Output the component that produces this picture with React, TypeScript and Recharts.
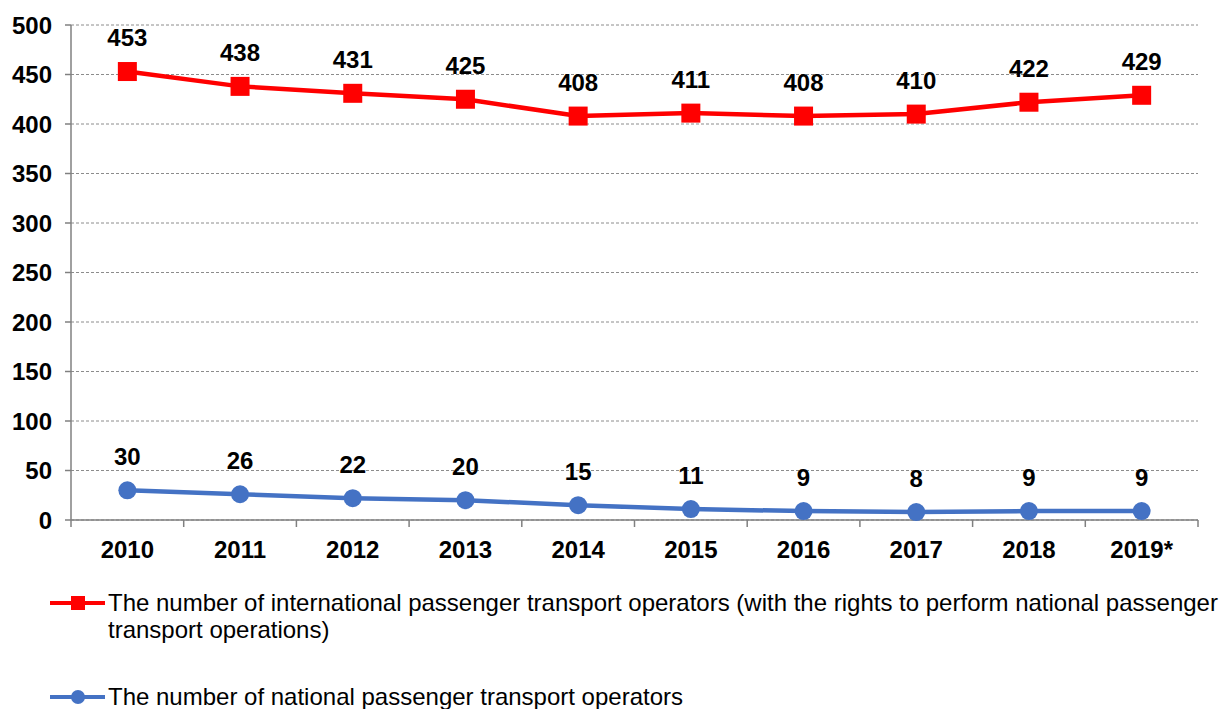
import React from 'react';
import { LineChart, Line, XAxis, YAxis, CartesianGrid, LabelList } from 'recharts';

const years = ['2010', '2011', '2012', '2013', '2014', '2015', '2016', '2017', '2018', '2019*'];
const international = [453, 438, 431, 425, 408, 411, 408, 410, 422, 429];
const national = [30, 26, 22, 20, 15, 11, 9, 8, 9, 9];
const yTicks = [0, 50, 100, 150, 200, 250, 300, 350, 400, 450, 500];

const seriesNames = {
  international:
    'The number of international passenger transport operators (with the rights to perform national passenger transport operations)',
  national: 'The number of national passenger transport operators',
};

const data = years.map((y, i) => ({ year: y, international: international[i], national: national[i] }));

const FONT = '"Liberation Sans", Arial, sans-serif';

const XTick = (props: any) => {
  const { x, y, payload, index, width, visibleTicksCount } = props;
  const half = width / (2 * visibleTicksCount);
  const last = index === visibleTicksCount - 1;
  return (
    <g>
      <line x1={x - half} x2={x - half} y1={y} y2={y + 7} stroke="#808080" strokeWidth={1.5} />
      {last && <line x1={x + half} x2={x + half} y1={y} y2={y + 7} stroke="#808080" strokeWidth={1.5} />}
      <text x={x} y={y + 29} textAnchor="middle" dominantBaseline="central" fontFamily={FONT} fontSize={24} fontWeight="bold" fill="#000">
        {payload.value}
      </text>
    </g>
  );
};

const PointLabel = (props: any) => {
  const { x, y, value } = props;
  return (
    <text x={x} y={y - 34} textAnchor="middle" dominantBaseline="central" fontFamily={FONT} fontSize={24} fontWeight="bold" fill="#000">
      {value}
    </text>
  );
};

const SquareDot = (props: any) => {
  const { cx, cy } = props;
  return <rect x={cx - 9.5} y={cy - 9.5} width={19} height={19} fill="#FF0000" />;
};

const CircleDot = (props: any) => {
  const { cx, cy } = props;
  return <circle cx={cx} cy={cy} r={9} fill="#4472C4" />;
};

export default function App() {
  return (
    <div style={{ position: 'absolute', left: 0, top: 0, width: 1222, height: 709, background: '#fff', fontFamily: FONT }}>
      <LineChart width={1222} height={709} data={data} margin={{ top: 25, right: 24, left: 0, bottom: 149 }}>
        <CartesianGrid vertical={false} stroke="#8c8c8c" strokeDasharray="3 2" />
        <XAxis
          dataKey="year"
          padding={{ left: 56.35, right: 56.35 }}
          height={40}
          tickSize={0}
          tickMargin={0}
          tickLine={false}
          axisLine={{ stroke: '#808080', strokeWidth: 1.5 }}
          tick={<XTick />}
          interval={0}
        />
        <YAxis
          width={71}
          domain={[0, 500]}
          ticks={yTicks}
          interval={0}
          tickSize={6}
          tickMargin={13}
          axisLine={{ stroke: '#808080', strokeWidth: 1.5 }}
          tickLine={{ stroke: '#808080', strokeWidth: 1.5 }}
          tick={{ fontFamily: FONT, fontSize: 24, fontWeight: 'bold', fill: '#000' }}
        />
        <Line
          type="linear"
          dataKey="international"
          name={seriesNames.international}
          stroke="#FF0000"
          strokeWidth={4.5}
          dot={<SquareDot />}
          isAnimationActive={false}
        >
          <LabelList dataKey="international" content={<PointLabel />} />
        </Line>
        <Line
          type="linear"
          dataKey="national"
          name={seriesNames.national}
          stroke="#4472C4"
          strokeWidth={4.5}
          dot={<CircleDot />}
          isAnimationActive={false}
        >
          <LabelList dataKey="national" content={<PointLabel />} />
        </Line>
      </LineChart>
      <div style={{ position: 'absolute', left: 0, top: 0, width: 1222, height: 709, pointerEvents: 'none' }}>
        <svg width={1222} height={709} style={{ position: 'absolute', left: 0, top: 0 }}>
          <line x1={50} x2={105} y1={603} y2={603} stroke="#FF0000" strokeWidth={4} />
          <rect x={71} y={596} width={14} height={14} fill="#FF0000" />
          <line x1={50} x2={105} y1={697} y2={697} stroke="#4472C4" strokeWidth={4} />
          <circle cx={78} cy={697} r={7} fill="#4472C4" />
        </svg>
        <div style={{ position: 'absolute', left: 108, top: 589, fontSize: 24, lineHeight: '27px', color: '#000', whiteSpace: 'nowrap' }}>
          The number of international passenger transport operators (with the rights to perform national passenger
          <br />
          transport operations)
        </div>
        <div style={{ position: 'absolute', left: 108, top: 683, fontSize: 24, lineHeight: '27px', color: '#000', whiteSpace: 'nowrap' }}>
          {seriesNames.national}
        </div>
      </div>
    </div>
  );
}
